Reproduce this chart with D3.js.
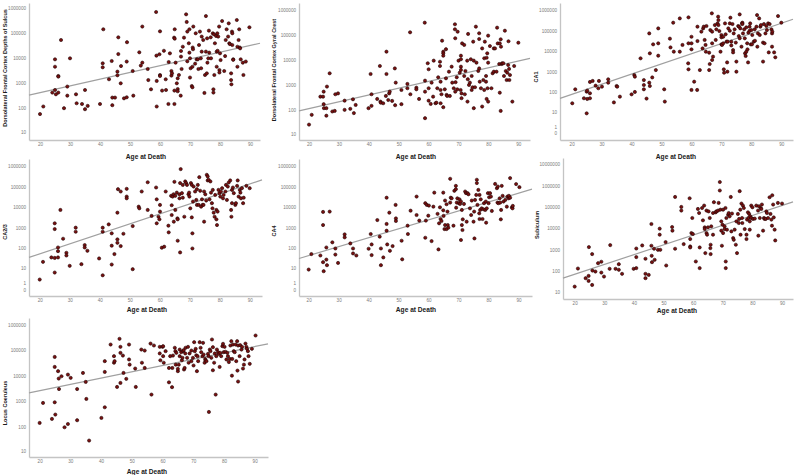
<!DOCTYPE html>
<html><head><meta charset="utf-8">
<script src="https://cdn.jsdelivr.net/npm/d3@7"></script>
<style>
html,body{margin:0;padding:0;background:#fff;}
svg{display:block;font-family:"Liberation Sans",Arial,sans-serif;}
</style></head>
<body><svg id="c" width="795" height="475"></svg>
<script>
// ---------- DATA ----------
const xTickValues = [20,30,40,50,60,70,80,90];
const ticksA = [10,100,1000,10000,100000,1000000];
const ticksB = [0,1,10,100,1000,10000,100000,1000000];
const ticksC = [10,100,1000,10000,100000,1000000,10000000];
const xTitle = "Age at Death";
const yTitles = ["Dorsolateral Frontal Cortex Depths of Sulcus","Dorsolateral Frontal Cortex Gyral Crest","CA1","CA2/3","CA4","Subiculum","Locus Coeruleus"];

const sulcusData = [[20,58],[21.1,117],[24.1,425],[25,540],[25,9100],[25,4600],[25.3,363],[26.1,1960],[26.1,1850],[26.1,425],[27,54000],[28,100],[29.1,740],[29.1,320],[30,10000],[32,363],[32.2,158],[34,148],[35,540],[35,91],[35.9,124],[40,148],[40.9,6300],[40.9,4370],[41.1,145000],[43,1450],[43.9,7800],[44.1,267],[44.1,132],[45,267],[45.8,2930],[45.8,2090],[46.1,14800],[46.1,69000],[46.9,1000],[47,4900],[48,250],[48.9,7400],[48.9,275],[49,44000],[50.9,3100],[51.1,320],[53.1,17400],[53.6,5100],[54.1,6700],[54.1,186000],[55.9,3740],[56.1,1350],[57,575],[58.7,710000],[58.8,12800],[58.9,1240],[58.9,117],[59.8,14500],[60,120000],[60,2150],[60,1960],[60.7,510],[61.3,20000],[61.9,1450],[62,540],[62.8,148],[62.9,7100],[63.3,15800],[63.8,2030],[63.8,3100],[64,2500],[64.7,67000],[64.9,61000],[64.9,145000],[64.8,510],[64.8,148],[65.2,6700],[65.6,1000],[65.9,1580],[65.9,590],[65.9,480],[66.3,2150],[66.9,320],[67,11700],[67,19600],[67.2,3740],[67.6,29000],[68,67000],[68.7,575000],[68.9,284000],[69.1,117000],[69.1,7600],[69.6,40000],[69.8,145000],[69.8,16800],[70,10000],[70,1700],[70.2,4000],[70.6,780],[70.8,690],[70.8,4600],[70.9,27000],[71,23000],[71.1,186000],[71.7,6100],[71.9,100000],[72.2,9100],[72.6,9100],[72.8,3740],[73,34000],[73.3,117000],[73.6,10000],[73.7,4000],[73.9,74000],[73.9,18500],[74.4,54000],[74.8,410],[75,2150],[75.3,490000],[75.3,18500],[75.6,2500],[75.7,63000],[75.8,6700],[76.1,10000],[76.3,128000],[76.4,16800],[76.9,69000],[77,10000],[77.6,100000],[77.8,575],[77.8,425],[78,91000],[78.1,2150],[78.3,40000],[78.7,78000],[78.9,4600],[78.9,18500],[79.1,100000],[79.2,20000],[79.4,74000],[79.7,186000],[79.8,3400],[79.8,2700],[80,15800],[80.2,8500],[80.7,310000],[81.4,3100],[81.7,12300],[81.9,54000],[82.2,145000],[82.7,74000],[82.9,250000],[83.1,40000],[83.3,37000],[83.7,2500],[83.7,1350],[83.8,910],[84,117000],[84.1,100000],[84.1,34000],[84.4,9100],[84.4,8700],[85.6,340000],[85.8,29000],[85.8,4600],[86.2,54000],[86.4,145000],[86.6,27000],[86.7,25000],[86.9,9100],[87.6,6700],[87.8,2150],[88.6,7400],[89.8,174000]];

const crestData = [[20,25],[20.9,63],[23.8,340],[24.7,340],[24.9,540],[24.9,170],[25,117],[25.8,117],[25.8,58],[26,860],[26.9,2930],[27.8,86],[28.6,91],[28.8,425],[29.7,460],[31.9,235],[31.9,100],[33.8,110],[34.7,267],[35,74],[35.6,158],[39.9,117],[40.6,2750],[40.9,425],[40.9,145],[42.8,275],[43.7,5750],[43.9,215],[44,195],[44.8,185],[45.7,363],[45.9,21500],[45.9,2750],[46.5,250],[46.8,460],[47,540],[47.8,230],[48.7,4600],[49,1240],[48.8,154],[50.9,170],[50.9,630],[52.9,1100],[52.9,740],[53.8,128000],[53.9,425],[55.9,780],[55.9,670],[56.8,275],[58.7,310000],[58.8,46],[58.8,1490],[58.8,540],[59.7,7400],[60,4250],[60,740],[60,235],[60.7,174],[61,1240],[61.5,340],[61.7,9400],[62.3,185],[62.6,195],[62.9,740],[63.2,2030],[63.8,8500],[63.8,5750],[64,1350],[64,630],[64,185],[64.3,425],[64.5,59000],[64.9,21500],[64.9,18500],[64.9,14800],[64.9,128],[65.4,670],[65.8,27000],[65.8,1850],[66,400],[66.2,363],[66.8,3400],[67.1,363],[67.7,5400],[67.9,1240],[68.4,740],[68.8,268000],[68.8,169000],[68.9,74000],[68.9,540],[69,1290],[69.4,2030],[69.6,670],[69.7,135000],[70,9400],[70.4,3100],[70.7,630],[70.8,14800],[70.8,10700],[70.8,5400],[70.8,4000],[71,460],[71,295],[71.2,46000],[71.9,2290],[71.9,40000],[72.1,425],[72.3,3630],[72.9,9400],[73.1,1700],[73,215],[73.2,110000],[73.5,1000],[73.8,1240],[74.1,10700],[74.4,630],[74.4,2290],[74.7,810],[74.9,54000],[75.1,117],[75.1,9400],[75.5,810],[75.8,215000],[76,7800],[76.6,3630],[76.9,117000],[76.9,69000],[76.9,4600],[77.1,1350],[77.5,740],[77.9,136],[77.9,29000],[78.3,1580],[78.6,11700],[78.6,630],[78.8,54000],[79.2,2290],[79.2,1350],[79.4,275],[79.4,12300],[79.6,18500],[79.7,740],[79.9,94000],[79.9,7800],[79.9,215],[80.5,36000],[81,740],[81.4,2930],[81.8,29000],[81.8,3400],[82.2,29000],[82.7,3400],[82.9,196000],[83.1,46000],[83.6,6900],[83.8,46000],[83.8,490],[84.1,91],[84.1,67000],[84.2,34000],[84.4,6900],[84.6,7400],[85,7400],[85.2,2290],[85.5,148000],[85.8,3630],[86.1,1580],[86.3,3100],[86.6,6300],[86.7,56000],[86.9,4370],[87,1580],[87.2,2500],[88,215],[88.6,5750],[90,49000]];

const ca1Data = [[20.2,28],[21.2,138],[24.1,50],[25,8.4],[25,106],[25.2,119],[25.2,46],[26.1,88],[26.1,50],[26.1,315],[27,353],[28,208],[28.9,155],[29.1,353],[30.1,186],[32.2,425],[32.2,290],[34.1,31],[35,200],[35.2,186],[36.1,60],[40,78],[40.9,690],[41.1,570],[41.1,102],[43,4460],[44.1,390],[44.1,224],[44.1,138],[45,48],[45.9,73000],[45.9,290],[46.1,7800],[46.1,200],[46.9,525],[47.2,21400],[48.1,1200],[48.9,128000],[48.9,24000],[48.9,6000],[50.9,138],[51.1,34],[52.8,40500],[53,15200],[53.9,242000],[54.1,9400],[56.1,392000],[56.1,9400],[57,20000],[58.9,2550],[59,24000],[59,1300],[59,440000],[60,24000],[60,128],[60,12200],[60,50000],[60.9,325],[61.9,128],[62,31000],[62,155000],[62.8,1200],[63.3,89000],[63.7,13600],[63.9,128000],[64.1,155000],[64.4,35000],[64.7,20000],[64.8,9400],[65,167000],[65.9,8400],[65.9,1200],[66.1,2360],[66.3,106000],[66.8,690000],[66.9,89000],[66.9,24000],[66.9,3700],[67.2,5400],[67.8,186000],[68.1,35000],[68.3,115000],[68.7,224000],[68.9,475000],[69,325000],[69,186000],[69.3,95000],[69.7,9400],[70,21400],[70,61000],[70,47000],[70.2,20000],[70.6,50000],[70.6,24000],[70.8,1300],[70.9,890],[71.2,224000],[71.4,66000],[71.7,29000],[71.9,2830],[72,1000],[72.1,29000],[72.3,128000],[72.8,224000],[72.8,98000],[73,425000],[73.3,29000],[73.3,19000],[73.7,208000],[73.9,11300],[73.9,8700],[74.1,73000],[74.4,115000],[74.8,26000],[75,3100],[75,1000],[75.6,167000],[75.8,54000],[75.9,155000],[76.1,42000],[76.3,128000],[76.1,615000],[76.7,16500],[76.9,224000],[77,242000],[77,208000],[77.2,73000],[77.6,115000],[77.8,42000],[77.9,7800],[78.1,5800],[78.3,144000],[78.3,9400],[78.6,24000],[78.7,12200],[78.9,2830],[79,79000],[79.4,155000],[79.4,98000],[79.6,224000],[79.8,21400],[80,106000],[80.2,21400],[80.3,61000],[80.8,29000],[81.1,115000],[81.2,32000],[81.7,155000],[81.9,570000],[82,16500],[82.2,73000],[82.6,392000],[82.8,61000],[83,155000],[83.2,186000],[83.9,26000],[83.9,3100],[84.2,208000],[84.4,24000],[84.7,73000],[85,167000],[85.2,106000],[85.6,224000],[85.8,8700],[86.1,208000],[86.7,115000],[86.9,73000],[86.9,16500],[87,89000],[87.6,8700],[88,5000],[88.9,510000],[90,242000]];

const ca23Data = [[20,2.1],[21.1,21.5],[23.9,36],[25,1700],[25,890],[25,34],[25,5.8],[26.1,112],[26.1,74],[26.1,36],[26.9,7600],[27.8,300],[28.9,61],[28.9,45],[30,13.4],[32,1040],[32,660],[33.9,16.4],[35,147],[35,112],[35.9,77],[39.8,32],[41,1040],[41,660],[41,4],[43,1510],[44,550],[44,137],[44,15.7],[44.9,53],[45.9,5600],[45.9,280],[45.9,190],[46.1,78000],[47,60000],[47,131],[47.9,525],[49,81000],[49,34000],[49,28000],[51,8.9],[51,1250],[53,11000],[53.2,9100],[54,60000],[56,170000],[56,7600],[57.3,3900],[58.8,94000],[59,25000],[59,1700],[59.6,3550],[59.9,2650],[60.1,13400],[60.1,6300],[60.7,109],[61.5,122],[62,60000],[62.9,1300],[63,615],[63.8,37000],[64,12900],[64,4300],[64.3,34000],[64.6,44000],[64.7,2040],[64.9,178000],[65.2,7600],[65.2,37000],[65.7,53000],[65.9,2950],[66,2650],[66,240],[66.6,44000],[66.6,28000],[66.8,64],[66.8,155000],[67,740000],[67.4,50000],[67.7,126000],[67.7,30000],[68.2,3550],[68.5,186000],[68.8,155000],[69.1,126000],[69.6,44000],[69.8,53000],[69.9,34000],[70.2,9100],[70.4,155000],[70.7,126000],[70.7,3300],[70.9,550],[70.9,100],[71.1,19500],[71.3,105000],[71.8,60000],[72.2,23400],[72.4,78000],[72.4,13400],[72.7,126000],[73,13400],[73.2,300000],[73.5,65000],[73.8,11000],[74.1,25000],[74.3,13400],[74.6,13400],[74.8,2040],[74.8,60000],[75.2,44000],[75.5,21800],[75.7,390000],[76,325000],[76,208000],[76.3,224000],[76.6,25000],[76.9,186000],[77.1,53000],[77.4,16200],[77.6,9100],[77.7,72000],[78,5600],[78.3,3550],[78.5,41000],[78.9,7600],[78.9,2650],[79.1,1400],[79.3,6300],[79.6,72000],[79.9,50000],[80.2,34000],[80.4,60000],[80.8,87000],[81.1,28000],[81.3,41000],[81.9,60000],[82.1,126000],[82.4,23400],[82.7,105000],[83,165000],[83.5,208000],[83.8,7600],[83.9,3550],[84.1,16200],[84.1,72000],[84.4,94000],[84.7,50000],[85.2,13400],[85.4,16200],[85.8,113000],[86,208000],[86.3,34000],[86.7,72000],[86.9,53000],[87.1,28000],[87.4,87000],[87.8,16200],[88,30000],[88.9,113000],[90,87000]];

const ca4Data = [[20,8.5],[20.9,53],[23.9,45],[24.8,6100],[24.8,1400],[24.8,20.7],[25,6.9],[25.9,112],[25.9,28],[26.1,14.5],[27,6300],[27.9,200],[28.9,100],[28.9,50],[29.8,19],[32,490],[32,350],[33.9,177],[34.8,100],[34.8,57],[35.9,45],[40,97],[40.7,510],[41,158],[41,47],[42.9,2450],[43.7,380],[44.1,100],[44.1,14.5],[44.9,36],[46,30000],[46,1580],[46,740],[46.2,158],[46.9,5600],[47.1,77],[48,131],[49,13400],[49.1,2950],[49.1,2200],[51,240],[51.2,29],[53,1300],[53.1,510],[54,7000],[56,34000],[56,4300],[56.9,2300],[58.9,16200],[58.9,335],[59.1,2300],[59.4,13400],[59.9,4000],[60.1,12400],[61,230],[61.6,11000],[61.9,53000],[63,4900],[63.3,90],[63.5,1700],[63.8,10200],[64,2750],[64.3,2200],[64.9,53000],[64.9,7300],[65,3900],[65.3,890],[65.5,21800],[65.5,1400],[66,14400],[66,890],[66.3,6300],[66.4,1400],[66.6,1040],[67.2,17400],[67.2,250000],[67.4,30000],[67.7,28000],[68.3,1300],[68.6,65000],[69.1,113000],[69.1,78000],[69.2,9800],[69.4,17400],[69.6,28000],[70.1,16200],[70.3,25000],[70.5,14900],[70.8,19500],[70.8,260],[71.1,7600],[71.1,1400],[71.3,800],[71.4,2650],[71.8,14900],[72.2,60000],[72.5,50000],[72.7,2040],[73,50000],[73.3,44000],[73.8,9100],[74.2,4300],[74.4,21800],[75,2040],[75.2,6300],[75.3,310],[75.5,23400],[75.9,41000],[76.1,224000],[76.1,155000],[76.3,13400],[76.6,72000],[76.9,5200],[77,2750],[77,41000],[77.2,7600],[77.4,25000],[77.7,9100],[78,2750],[78.3,8200],[78.5,16200],[78.9,7600],[79.1,19500],[79.2,1820],[79.4,9100],[79.8,50000],[80,16200],[80.2,31600],[80.5,50000],[80.8,34000],[81.1,6800],[82.2,141000],[82.8,87000],[83,17400],[83.1,105000],[83.3,16200],[83.7,28000],[83.9,17400],[84.1,2650],[84.2,7600],[84.4,113000],[84.7,37000],[85,19500],[85.6,23400],[86.1,11000],[86.3,34000],[86.7,28000],[86.8,37000],[87.2,270000],[87.2,30000],[87.8,10200],[88,9100],[88.1,12000],[89.2,138000],[90.3,98000]];

const subiculumData = [[20,17.9],[21.1,132],[23.7,46],[24.7,59],[24.7,34],[24.8,1340],[25.9,630],[25.9,21.6],[26,106],[27,95],[27.9,235],[29,275],[29,85],[29.9,55],[31.8,128],[32,1660],[33.8,128],[34.9,212],[34.9,115],[36,74],[39.9,128],[40.8,455],[40.8,138],[40.8,1150],[42.8,1600],[43.9,74],[43.9,46],[43.9,380],[45,66],[45.9,16200],[45.9,1550],[46,525],[46.1,263],[46.8,1120],[47,340],[48.1,1000],[48.7,9800],[48.7,5100],[48.9,1000],[50.7,2300],[50.9,183],[52.9,11700],[53,7900],[53.9,300000],[53.9,1120],[56,102000],[56,69000],[56.8,1850],[58.8,260000],[59,1440],[59,1290],[59,3200],[59.4,6100],[59.7,31000],[59.9,5500],[60.9,283],[61.6,82000],[62,53000],[62.2,1290],[62.2,138],[63,91000],[63.3,24000],[63.7,118000],[63.9,11300],[63.9,9400],[64.1,700],[64.5,69000],[64.5,6100],[64.7,5100],[65,11300],[65.2,63000],[65.6,31000],[65.8,1200],[65.9,1730],[65.9,630],[66.1,12600],[66.7,53000],[66.7,5100],[67,170000],[67.6,57000],[67.8,63000],[68.4,69000],[68.6,158000],[69,1500000],[69,600000],[69.2,76000],[69.5,21500],[69.5,7900],[69.7,1550],[69.9,15000],[70.1,6100],[70.1,76000],[70.6,12600],[70.6,9400],[70.9,91000],[71,138],[71,283],[71.2,31000],[71.4,8800],[71.8,44000],[72,53000],[72.3,37000],[72.7,300000],[72.9,7300],[73.1,50000],[73.5,3550],[73.7,2950],[74,8800],[74.4,1730],[74.6,21500],[74.8,700],[75.1,48000],[75.4,18000],[75.5,28000],[75.7,560000],[75.9,76000],[76,5100],[76.3,147000],[76.5,31000],[76.6,18000],[76.8,118000],[77.1,91000],[77.4,9400],[78,5100],[78,3200],[78.2,26000],[78.5,57000],[78.7,31000],[78.9,48000],[79.1,21500],[79.1,8800],[79.3,37000],[79.6,118000],[79.6,31000],[80,98000],[80.2,28000],[80.8,29000],[81.3,118000],[81.9,69000],[82,4600],[82.2,110000],[82.5,31000],[82.8,91000],[83,82000],[83.2,132000],[83.6,7900],[83.9,31000],[84.1,28000],[84.5,28000],[84.7,63000],[84.9,53000],[85.3,31000],[85.8,290000],[86.1,48000],[86.4,26000],[86.6,13500],[86.7,360000],[87,132000],[87.2,33000],[87.5,8800],[87.7,2750],[88.6,158000],[90,147000]];

const locusData = [[20,141],[21.1,860],[24,203],[24.9,54000],[24.9,22000],[24.9,910],[25.1,300],[26,15000],[26.2,7700],[26.3,3000],[27.1,9500],[28.1,95],[29.2,11000],[29.2,128],[30.1,8200],[32.2,3000],[32.2,180],[34.1,12800],[35,5700],[35.2,1230],[36.1,28],[40.1,222],[41.2,37000],[41.2,14000],[41.2,580],[43.1,165000],[44.2,58000],[44.2,32000],[44.4,37000],[45.2,3630],[46,276000],[46.3,134000],[46.3,78000],[46.3,5200],[47.1,61000],[47.3,12800],[48.2,7500],[49.1,165000],[49.1,43000],[49.3,27000],[51.1,19000],[51.3,3630],[53.1,105000],[53.3,32000],[54.2,96000],[54.2,20000],[56.1,180000],[56.4,1820],[57.2,151000],[59.1,134000],[59.1,74000],[59.3,40000],[60,134000],[60.2,142000],[60.2,58000],[60.4,32000],[61,91000],[62.1,5500],[62.1,20000],[62.5,58000],[63.1,3550],[63.2,20000],[63.4,61000],[64,123000],[64.2,91000],[64.3,27000],[64.5,78000],[65,15000],[65,18500],[65.3,27000],[65.6,105000],[65.6,58000],[66.1,83000],[66.3,40000],[66.5,50000],[66.7,91000],[66.9,100000],[67,17400],[67.2,20000],[67.4,74000],[67.5,123000],[68,50000],[68.3,134000],[68.5,32000],[68.8,74000],[69.4,96000],[69.4,37000],[69.9,50000],[70.1,25000],[70.3,204000],[70.5,91000],[70.8,112000],[71,63000],[71.2,15000],[71.4,58000],[71.6,37000],[72.1,204000],[72.4,123000],[72.6,83000],[73,58000],[73.2,192000],[73.4,67000],[73.7,32000],[73.9,45000],[74,40000],[74.3,37000],[74.8,71000],[75,58000],[75.1,380],[75.4,105000],[75.6,91000],[75.9,50000],[76.1,260000],[76.4,16300],[76.4,130000],[76.8,32000],[77,74000],[77.3,1820],[77.5,58000],[77.7,105000],[78.1,83000],[78.3,71000],[78.6,22000],[78.8,78000],[79.1,58000],[79.5,142000],[79.7,176000],[79.9,83000],[80.2,134000],[80.5,86000],[80.8,43000],[81.1,78000],[81.3,58000],[81.6,34000],[81.9,45000],[82.1,151000],[82.4,224000],[82.6,10000],[82.7,45000],[82.9,165000],[83.2,91000],[83.5,83000],[83.8,165000],[84,37000],[84.3,224000],[84.4,15800],[84.6,5900],[84.6,151000],[85.1,58000],[85.3,156000],[85.7,105000],[85.9,134000],[86.2,19000],[86.5,27000],[86.7,43000],[87,180000],[87.3,134000],[87.5,112000],[87.8,91000],[88,58000],[88.4,29000],[89.1,112000],[90.3,372000]];

// fit lines (start, end)
const sulcusFit = [[16.33,335],[93.33,40000]];
const crestFit = [[16.65,91],[93.9,11660]];
const ca1Fit = [[16.1,49],[93.9,355000]];
const ca23Fit = [[16.43,36],[94.1,220000]];
const ca4Fit = [[16.77,32],[94.5,78000]];
const subiculumFit = [[16.06,46],[93.7,175000]];
const locusFit = [[16.53,2120],[94.34,176000]];

// ---------- LAYOUT ----------
const panels = [
 {data:sulcusData, fit:sulcusFit, ticks:ticksA, title:yTitles[0], box:[29,260,3,140], age:[16.33,93.33], val:[4.4,1.63e6], yt:[5,68], xt:[146,156]},
 {data:crestData, fit:crestFit, ticks:ticksA, title:yTitles[1], box:[299,530,3,140], age:[16.65,93.9], val:[5.3,1.9e6], yt:[274,70], xt:[416,156]},
 {data:ca1Data, fit:ca1Fit, ticks:ticksB, title:yTitles[2], box:[560,793,3,140], age:[16.1,93.9], val:[-1.11,2.2e6], yt:[536,77], xt:[676,156]},
 {data:ca23Data, fit:ca23Fit, ticks:ticksB, title:yTitles[3], box:[29,262,159,296], age:[16.43,94.1], val:[-1.04,2.3e6], yt:[5,232], xt:[147,309]},
 {data:ca4Data, fit:ca4Fit, ticks:ticksB, title:yTitles[4], box:[299,532,159,296], age:[16.77,94.5], val:[-1.04,2.3e6], yt:[274,231], xt:[416,309]},
 {data:subiculumData, fit:subiculumFit, ticks:ticksC, title:yTitles[5], box:[563,793,158,299], age:[16.06,93.7], val:[3.97,2.0e7], yt:[537,225], xt:[677,310]},
 {data:locusData, fit:locusFit, ticks:ticksA, title:yTitles[6], box:[29,268,318,457], age:[16.53,94.34], val:[5.6,1.8e6], yt:[5,403], xt:[147,471]}
];

const svg = d3.select("#c");
svg.append("rect").attr("width",795).attr("height",475).attr("fill","#fff");

panels.forEach(p => {
  const [x0,x1,y0,y1] = p.box;
  const x = d3.scaleLinear().domain(p.age).range([x0,x1]);
  const y = d3.scaleSymlog().constant(1).domain(p.val).range([y1,y0]);
  const g = svg.append("g");

  const ya = g.append("g").attr("transform",`translate(${x0},0)`)
    .call(d3.axisLeft(y).tickValues(p.ticks).tickSize(0).tickSizeOuter(0).tickPadding(3).tickFormat(d3.format("d")));
  const xa = g.append("g").attr("transform",`translate(0,${y1})`)
    .call(d3.axisBottom(x).tickValues(xTickValues).tickSize(0).tickSizeOuter(0).tickPadding(2.5).tickFormat(d3.format("d")));
  [ya,xa].forEach(a => {
    a.select(".domain").attr("stroke","#c4c4c4").attr("stroke-width",1.3);
    a.selectAll("text").attr("fill","#7a7a7a").style("font-size","4.6px").style("font-family","'Liberation Sans',Arial,sans-serif");
  });

  g.append("path").datum(p.fit)
    .attr("d", d3.line().x(d=>x(d[0])).y(d=>y(d[1])))
    .attr("stroke","#a0a0a0").attr("stroke-width",1.2).attr("fill","none");

  g.append("g").selectAll("circle").data(p.data).join("circle")
    .attr("cx",d=>x(d[0])).attr("cy",d=>y(d[1])).attr("r",1.6)
    .attr("fill","#7a1010").attr("stroke","#1e0303").attr("stroke-width",0.6);

  g.append("text").attr("transform",`translate(${p.yt[0]},${p.yt[1]}) rotate(-90)`)
    .attr("text-anchor","middle").attr("dominant-baseline","central")
    .style("font-size","5.5px").style("font-weight","bold").attr("fill","#1a1a1a").text(p.title);
  g.append("text").attr("x",p.xt[0]).attr("y",p.xt[1])
    .attr("text-anchor","middle").attr("dominant-baseline","central")
    .style("font-size","6.6px").style("font-weight","bold").attr("fill","#1a1a1a").text(xTitle);
});
</script>
</body></html>
